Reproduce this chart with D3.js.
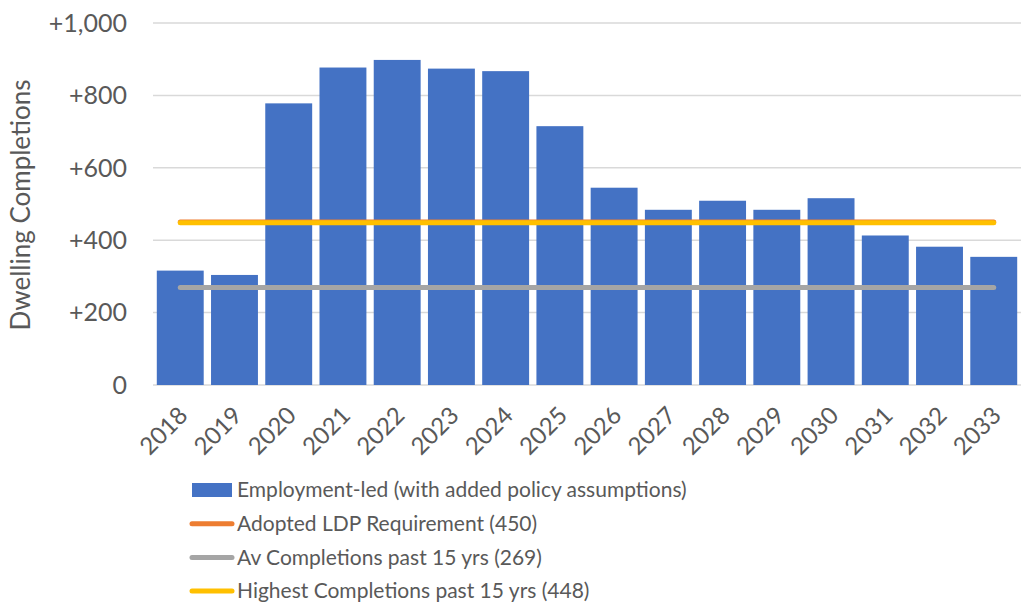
<!DOCTYPE html>
<html>
<head>
<meta charset="utf-8">
<script src="https://cdn.jsdelivr.net/npm/d3@7"></script>
<style>
  body { margin: 0; background: #fff; }
  text { font-family: Lato, "Open Sans", sans-serif; fill: #595959; }
</style>
</head>
<body>
<div id="chart"></div>
<script>
// data
var years = ["2018","2019","2020","2021","2022","2023","2024","2025","2026","2027","2028","2029","2030","2031","2032","2033"];
var completions = [316, 304, 778, 877, 898, 874, 867, 715, 545, 484, 509, 484, 516, 413, 382, 354];
var refNames = ["Adopted LDP Requirement (450)", "Av Completions past 15 yrs (269)", "Highest Completions past 15 yrs (448)"];
var refValues = [450, 269, 448];
var refColors = ["#ED7D31", "#A5A5A5", "#FFC000"];
var barName = "Employment-led (with added policy assumptions)";
var yTicks = [0, 200, 400, 600, 800, 1000];

var W = 1027, H = 608;
var margin = {top: 23, right: 6, left: 153};
var baseY = 385;

var svg = d3.select("#chart").append("svg")
  .attr("width", W).attr("height", H);

var x = d3.scaleBand()
  .domain(years)
  .range([margin.left, W - margin.right])
  .paddingInner(0.135)
  .paddingOuter(0.07);

var y = d3.scaleLinear()
  .domain([0, 1000])
  .range([baseY, margin.top]);

// gridlines
svg.append("g")
  .selectAll("line")
  .data(yTicks)
  .enter().append("line")
    .attr("x1", margin.left)
    .attr("x2", W - margin.right)
    .attr("y1", d => y(d))
    .attr("y2", d => y(d))
    .attr("stroke", "#d9d9d9")
    .attr("stroke-width", 1.5);

// y tick labels
var fmt = d3.format(",");
svg.append("g")
  .selectAll("text")
  .data(yTicks)
  .enter().append("text")
    .attr("x", 127)
    .attr("y", d => y(d))
    .attr("dy", "0.35em")
    .attr("text-anchor", "end")
    .attr("font-size", "25px")
    .text(d => d === 0 ? "0" : "+" + fmt(d));

// y axis title
svg.append("text")
  .attr("transform", "translate(30,205) rotate(-90)")
  .attr("text-anchor", "middle")
  .attr("font-size", "26px")
  .text("Dwelling Completions");

// bars
svg.append("g")
  .selectAll("rect")
  .data(completions)
  .enter().append("rect")
    .attr("x", (d, i) => x(years[i]))
    .attr("y", d => y(d))
    .attr("width", x.bandwidth())
    .attr("height", d => y(0) - y(d))
    .attr("fill", "#4472C4");

// reference lines from first to last category centre
var x0 = x(years[0]) + x.bandwidth() / 2;
var x1 = x(years[years.length - 1]) + x.bandwidth() / 2;
svg.append("g")
  .selectAll("line")
  .data(refValues)
  .enter().append("line")
    .attr("x1", x0)
    .attr("x2", x1)
    .attr("y1", d => y(d))
    .attr("y2", d => y(d))
    .attr("stroke", (d, i) => refColors[i])
    .attr("stroke-width", 5)
    .attr("stroke-linecap", "round");

// x tick labels, rotated
svg.append("g")
  .selectAll("text")
  .data(years)
  .enter().append("text")
    .attr("transform", d => "translate(" + (x(d) + x.bandwidth() / 2 + 3) + ",411) rotate(-45)")
    .attr("text-anchor", "end")
    .attr("dy", "0.35em")
    .attr("font-size", "24px")
    .text(d => d);

// legend
var lg = svg.append("g").attr("transform", "translate(192,490)");
var step = 33.7;
lg.append("rect")
  .attr("x", 0).attr("y", -7)
  .attr("width", 40).attr("height", 14)
  .attr("fill", "#4472C4");
lg.append("text")
  .attr("x", 45).attr("y", 0).attr("dy", "0.35em")
  .attr("font-size", "21px")
  .text(barName);
refNames.forEach(function(name, i) {
  var yy = step * (i + 1);
  lg.append("line")
    .attr("x1", 0).attr("x2", 40)
    .attr("y1", yy).attr("y2", yy)
    .attr("stroke", refColors[i])
    .attr("stroke-width", 5)
    .attr("stroke-linecap", "round");
  lg.append("text")
    .attr("x", 45).attr("y", yy).attr("dy", "0.35em")
    .attr("font-size", "21px")
    .text(name);
});
</script>
</body>
</html>
